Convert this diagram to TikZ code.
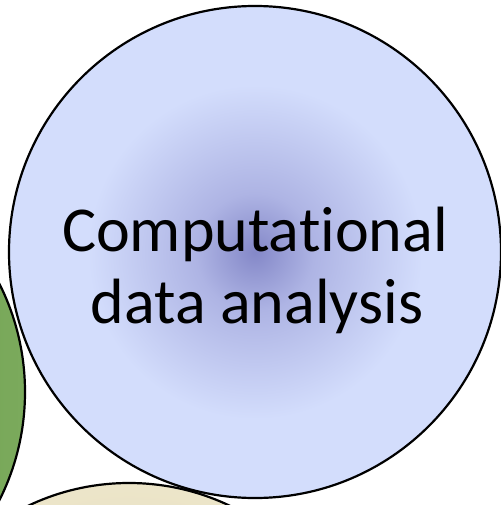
\documentclass[tikz,border=0pt]{standalone}
\usepackage{fontspec}
\setmainfont[Ligatures=NoCommon]{Carlito}
\definecolor{blueedge}{HTML}{D3DDFC}
\definecolor{bluemid}{HTML}{AEB4E4}
\definecolor{bluecore}{HTML}{8488C8}
\definecolor{greenL}{HTML}{5A8C3C}
\definecolor{greenR}{HTML}{7BAA5C}
\definecolor{beige}{HTML}{ECE5C9}
\definecolor{beigeD}{HTML}{E4DCBC}
\pgfdeclareradialshading{bluecloud}{\pgfpointorigin}{%
  color(0bp)=(bluecore); color(6bp)=(bluemid); color(17bp)=(blueedge); color(50bp)=(blueedge)}
\begin{document}
\begin{tikzpicture}[x=1bp,y=-1bp,
  ring/.style={draw=black,line width=2.2bp},
  lbl/.style={anchor=base,inner sep=0pt,font=\fontsize{64bp}{72bp}\selectfont}]
\useasboundingbox (0,0) rectangle (501,505);
\begin{scope}
\clip (0,0) rectangle (501,505);
\path[ring,left color=greenL,right color=greenR] (-216,392) circle[radius=241];
\path[ring,inner color=beigeD,outer color=beige] (129,717) circle[radius=234];
\node[ring,circle,minimum size=492bp,inner sep=0pt,shading=bluecloud] (cda) at (255,252) {};
\node[lbl] (t1) at (255,251) {Computational};
\node[lbl] (t2) at (257,323) {data analysis};
\end{scope}
\end{tikzpicture}
\end{document}
